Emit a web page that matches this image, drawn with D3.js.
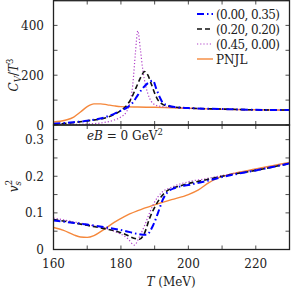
<!DOCTYPE html>
<html><head><meta charset="utf-8">
<script src="https://cdn.jsdelivr.net/npm/d3@7"></script>
<style>body{margin:0;background:#fff}svg{display:block}svg text{font-family:"DejaVu Serif",serif}</style>
</head><body><svg id="c" width="291" height="291"></svg>
<script>
const xTicks=[160,170,180,190,200,210,220,230];
const xLabels=[160,180,200,220];
const cvTicks=[0,100,200,300,400,500];
const cvLabels=[0,200,400];
const vsTicks=[0,0.05,0.1,0.15,0.2,0.25,0.3];
const vsLabels=[0,0.1,0.2,0.3];
const seriesNames=["(0.00, 0.35)","(0.20, 0.20)","(0.45, 0.00)","PNJL"];
// C_V/T^3 data
const cvBlueT=[160,165,170,175,178,180,182,183.5,185,186.5,188,189.5,190.5,191.5,192.5,194,196,200,210,220,230];
const cvBlueV=[5,10,17,30,45,58,72,90,120,148,168,178,145,112,88,78,72,68,64,61,60];
const cvBlackT=[160,165,170,175,178,180,181.5,183,184.5,186,187,188,189,190,191,192.5,194,196,200,210,220,230];
const cvBlackV=[3,8,17,27,42,58,75,105,150,195,215,200,165,128,100,82,76,72,68,64,61,60];
const cvPurpleT=[160,165,170,175,178,180,181.5,182.5,183.5,184.3,185,185.8,186.5,187.3,188,189,190,192,196,200,210,220,230];
const cvPurpleV=[1,2,4,10,20,32,50,80,160,290,378,300,220,160,125,95,82,74,70,67,64,61,60];
const cvPnjlT=[160,162,164,166,168,170,172,174,176,178,180,185,190,195,200,210,220,230];
const cvPnjlV=[12,15,21,32,52,74,85,85,81,77,74,72,71,69,67,63,61,59];
// v_s^2 data
const vsBlueT=[160,170,180,187.5,189.5,191,192.5,194,196,200,205,210,220,230];
const vsBlueV=[0.079,0.068,0.053,0.040,0.065,0.10,0.138,0.158,0.168,0.176,0.186,0.198,0.216,0.235];
const vsBlackT=[160,170,180,185.5,187,188.5,190,192,194,197,200,205,210,220,230];
const vsBlackV=[0.082,0.066,0.046,0.028,0.045,0.085,0.115,0.145,0.162,0.172,0.180,0.190,0.200,0.216,0.235];
const vsPurpleT=[160,170,178,182,184,185.5,187,188.5,190,192,195,200,205,210,220,230];
const vsPurpleV=[0.086,0.068,0.050,0.030,0.012,0.035,0.065,0.100,0.130,0.155,0.170,0.185,0.193,0.202,0.218,0.236];
const vsPnjlT=[160,163,166,168,170,172,175,178,181,185,190,195,200,203,206,209,213,220,225,230];
const vsPnjlV=[0.060,0.052,0.040,0.034,0.033,0.038,0.055,0.074,0.090,0.106,0.122,0.136,0.150,0.163,0.182,0.196,0.207,0.220,0.229,0.238];

const svg=d3.select("#c");
const L=53.5,R=289.5;
const x=d3.scaleLinear().domain([160,230]).range([L,R]);
const yCv=d3.scaleLinear().domain([0,500]).range([125,0.5]);
const yVs=d3.scaleLinear().domain([0,0.34]).range([249.5,125]);

const styles=[
 {c:"#0000ff",w:2,d:"7,3,1.5,3"},
 {c:"#111111",w:1.6,d:"5,3"},
 {c:"#b040c8",w:1.2,d:"1.2,2"},
 {c:"#f5883c",w:1.4,d:null}
];
svg.append("clipPath").attr("id","ct").append("rect").attr("x",L).attr("y",0.5).attr("width",R-L).attr("height",124.5);
svg.append("clipPath").attr("id","cb").append("rect").attr("x",L).attr("y",125).attr("width",R-L).attr("height",124.5);

const gTop=svg.append("g").attr("clip-path","url(#ct)");
const gBot=svg.append("g").attr("clip-path","url(#cb)");
function drawIn(g,T,V,y,s){
  const data=T.map((t,i)=>[t,V[i]]);
  const line=d3.line().x(d=>x(d[0])).y(d=>y(d[1])).curve(d3.curveMonotoneX);
  const p=g.append("path").datum(data).attr("d",line).attr("fill","none")
   .attr("stroke",s.c).attr("stroke-width",s.w).attr("stroke-linejoin","round");
  if(s.d)p.attr("stroke-dasharray",s.d);
}
drawIn(gTop,cvPnjlT,cvPnjlV,yCv,styles[3]);
drawIn(gTop,cvPurpleT,cvPurpleV,yCv,styles[2]);
drawIn(gTop,cvBlackT,cvBlackV,yCv,styles[1]);
drawIn(gTop,cvBlueT,cvBlueV,yCv,styles[0]);
drawIn(gBot,vsPnjlT,vsPnjlV,yVs,styles[3]);
drawIn(gBot,vsPurpleT,vsPurpleV,yVs,styles[2]);
drawIn(gBot,vsBlackT,vsBlackV,yVs,styles[1]);
drawIn(gBot,vsBlueT,vsBlueV,yVs,styles[0]);

const tk=svg.append("g").attr("stroke","#222").attr("stroke-width",0.8);
function xt(yb,yt){
  xTicks.forEach(t=>{
    tk.append("line").attr("x1",x(t)).attr("x2",x(t)).attr("y1",yb).attr("y2",yb-4);
    tk.append("line").attr("x1",x(t)).attr("x2",x(t)).attr("y1",yt).attr("y2",yt+4);
  });
}
xt(125,0.5); xt(249.5,125);
cvTicks.forEach(v=>{tk.append("line").attr("x1",L).attr("x2",L+4).attr("y1",yCv(v)).attr("y2",yCv(v));
 tk.append("line").attr("x1",R).attr("x2",R-4).attr("y1",yCv(v)).attr("y2",yCv(v));});
vsTicks.forEach(v=>{tk.append("line").attr("x1",L).attr("x2",L+4).attr("y1",yVs(v)).attr("y2",yVs(v));
 tk.append("line").attr("x1",R).attr("x2",R-4).attr("y1",yVs(v)).attr("y2",yVs(v));});

svg.append("rect").attr("x",L).attr("y",0.7).attr("width",R-L).attr("height",124.3).attr("fill","none").attr("stroke","#222").attr("stroke-width",1.3);
svg.append("rect").attr("x",L).attr("y",125).attr("width",R-L).attr("height",124.5).attr("fill","none").attr("stroke","#222").attr("stroke-width",1.3);

const fs=12;
const T=(sel)=>sel.attr("fill","#222");
cvLabels.forEach(v=>T(svg.append("text")).attr("x",44).attr("y",yCv(v)+4.5).attr("text-anchor","end").attr("font-size",fs).text(v));
vsLabels.forEach(v=>T(svg.append("text")).attr("x",44).attr("y",yVs(v)+4.5).attr("text-anchor","end").attr("font-size",fs).text(v===0?"0":v.toFixed(1)));
xLabels.forEach(t=>T(svg.append("text")).attr("x",x(t)).attr("y",268).attr("text-anchor","middle").attr("font-size",fs).text(t));

const xl=T(svg.append("text")).attr("x",171).attr("y",286).attr("text-anchor","middle").attr("font-size",fs);
xl.append("tspan").attr("font-style","italic").text("T");
xl.append("tspan").text(" (MeV)");

const yl1=T(svg.append("text")).attr("transform","translate(18,75) rotate(-90)").attr("text-anchor","middle").attr("font-size",fs);
yl1.append("tspan").attr("font-style","italic").text("C");
yl1.append("tspan").attr("font-style","italic").attr("font-size",8.5).attr("dy",3).text("V");
yl1.append("tspan").attr("dy",-3).text("/");
yl1.append("tspan").attr("font-style","italic").text("T");
yl1.append("tspan").attr("font-size",8.5).attr("dy",-5).text("3");

const yl2=T(svg.append("text")).attr("transform","translate(18,186) rotate(-90)").attr("text-anchor","middle").attr("font-size",fs);
yl2.append("tspan").attr("font-style","italic").text("v");
yl2.append("tspan").attr("font-style","italic").attr("font-size",8.5).attr("dy",3).text("s");
yl2.append("tspan").attr("font-size",8.5).attr("dy",-9).attr("dx",-4).text("2");

const eb=T(svg.append("text")).attr("x",87).attr("y",140).attr("font-size",fs);
eb.append("tspan").attr("font-style","italic").text("eB");
eb.append("tspan").text(" = 0 GeV");
eb.append("tspan").attr("font-size",8.5).attr("dy",-5).text("2");

const legY=[14,29,44,59];
seriesNames.forEach((n,i)=>{
  const s=styles[i];
  const l=svg.append("line").attr("x1",197).attr("x2",213).attr("y1",legY[i]).attr("y2",legY[i])
    .attr("stroke",s.c).attr("stroke-width",s.w);
  if(s.d)l.attr("stroke-dasharray",s.d);
  const t=T(svg.append("text")).attr("x",216).attr("y",legY[i]+4.5).attr("font-size",fs).text(n);
  if(i<3)t.attr("textLength",64);
});
</script></body></html>
